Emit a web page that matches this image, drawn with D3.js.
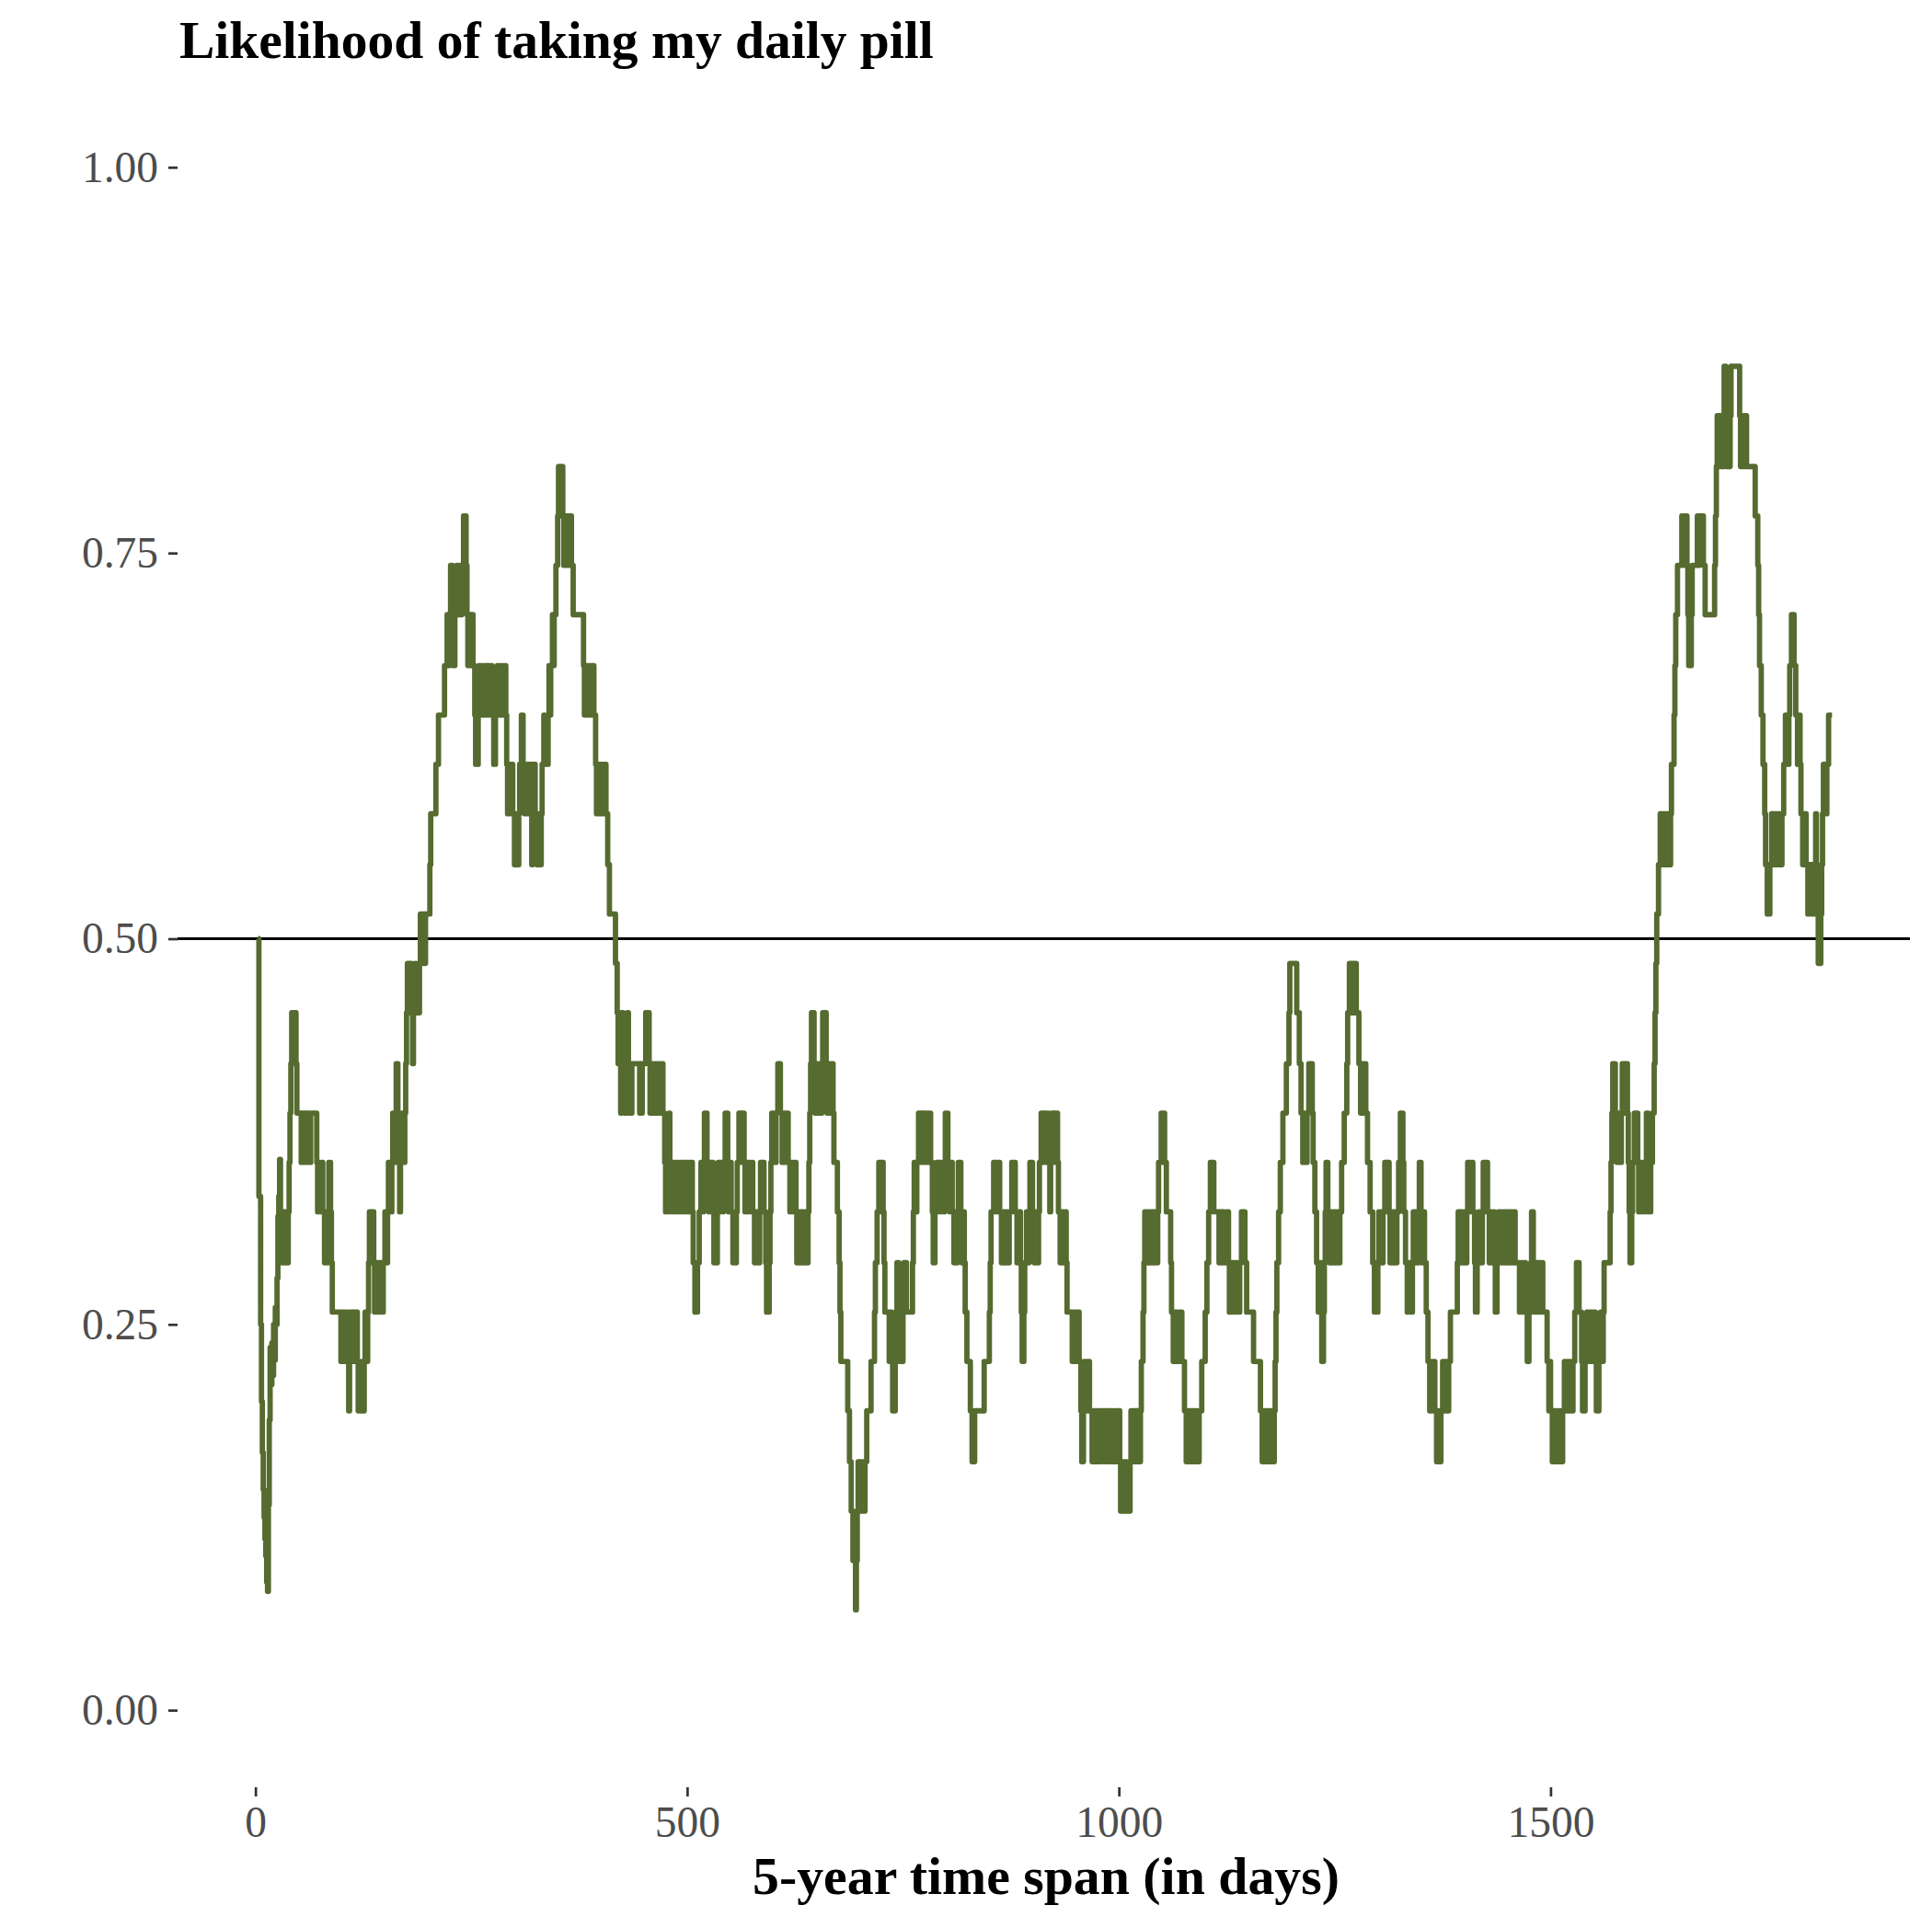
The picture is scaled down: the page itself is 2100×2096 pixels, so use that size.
<!DOCTYPE html>
<html><head><meta charset="utf-8">
<script src="https://cdn.jsdelivr.net/npm/d3@7"></script>
<style>body{margin:0;background:#fff}</style>
</head><body>
<svg id="chart" width="2100" height="2096"></svg>
<script>
// ---- data ----
const chartTitle = "Likelihood of taking my daily pill";
const xAxisTitle = "5-year time span (in days)";
const xTickValues = [0, 500, 1000, 1500];
const yTickValues = [0, 0.25, 0.5, 0.75, 1];
const dayRange = [1, 1825];
const likelihoodRange = [0, 1];
const referenceLikelihood = 0.5;
// [day, likelihood]: the likelihood holds from that day until the next entry
const likelihoodRuns = [
[3,.5],[4,.333],[6,.25],[7,.2],[8,.167],[9,.143],[10,.125],[11,.111],[12,.1],[13,.083],[14,.077],[15,.133],[16,.188],[17,.235],[18,.211],[19,.238],[20,.217],[21,.25],[22,.227],[23,.261],[24,.25],[25,.28],[26,.32],[27,.333],[28,.357],[29,.31],[30,.3],[31,.29],
[32,.323],[33,.29],[34,.323],[35,.29],[36,.323],[37,.29],[38,.323],[39,.355],[40,.387],[41,.419],[42,.452],[43,.419],[44,.452],[45,.419],[46,.452],[47,.419],[48,.387],[53,.355],[54,.387],[56,.355],[57,.387],[59,.355],[60,.387],[62,.355],[64,.387],[71,.355],[72,.323],[74,.355],[75,.323],[77,.355],[78,.323],[80,.29],[81,.323],[82,.29],[84,.323],[85,.355],[87,.323],[88,.29],[89,.258],[99,.226],[100,.258],[101,.226],[103,.258],[104,.226],[106,.258],[107,.226],[108,.194],[109,.226],[110,.258],[112,.226],[113,.258],[115,.226],[116,.258],[118,.226],[119,.194],[120,.226],[121,.194],[123,.226],[124,.194],[126,.226],[127,.258],[128,.226],[130,.258],[131,.29],[132,.323],[134,.29],[135,.323],[137,.29],[138,.258],[139,.29],[141,.258],[142,.29],[144,.258],[145,.29],[147,.258],[148,.29],[150,.323],[152,.29],[153,.323],[154,.355],[155,.323],[156,.355],[157,.323],[158,.355],[159,.387],[160,.355],[162,.387],[163,.419],[165,.387],[166,.355],[167,.323],[168,.355],[169,.387],[170,.355],[171,.387],[172,.355],[173,.387],[174,.419],[175,.452],[176,.484],[178,.452],[179,.484],[181,.452],[182,.419],[183,.452],[185,.484],[186,.452],[188,.484],[189,.452],[190,.484],[191,.516],[193,.484],[194,.516],[196,.484],[197,.516],[202,.548],[203,.581],
[209,.613],[212,.645],[219,.677],[222,.71],[224,.677],[225,.71],[226,.742],[228,.71],[229,.677],[231,.71],[233,.742],[234,.71],[236,.742],[237,.71],[239,.742],[241,.774],[244,.742],[245,.71],[246,.677],[247,.71],[249,.677],[250,.71],[252,.677],[254,.645],[255,.613],[258,.645],[259,.677],[261,.645],[263,.677],[264,.645],[266,.677],[268,.645],[269,.677],[271,.645],[273,.677],[274,.645],[276,.613],[278,.645],[280,.677],[281,.645],[283,.677],[284,.645],[286,.677],[287,.645],[289,.677],[290,.645],[291,.613],[292,.581],[294,.613],[295,.581],[297,.613],[298,.581],[300,.548],[302,.581],[303,.548],[305,.581],[306,.613],[308,.645],[310,.613],[312,.581],[314,.613],[315,.581],[317,.613],[319,.581],[320,.548],[321,.581],[322,.613],[324,.581],[326,.548],[328,.581],[329,.548],[331,.581],[332,.613],[334,.645],[335,.613],[337,.645],[338,.613],[339,.645],[340,.677],[341,.645],[342,.677],[344,.71],[345,.677],[346,.71],[348,.742],[350,.774],[351,.806],[353,.774],[354,.806],[356,.774],[357,.742],[358,.774],[360,.742],[361,.774],[363,.742],[364,.774],[366,.742],[368,.71],[380,.677],[381,.645],[383,.677],[385,.645],[387,.677],[388,.645],[390,.677],[392,.645],[394,.613],[395,.581],[397,.613],[399,.581],[401,.613],[403,.581],[405,.613],[406,.581],[408,.548],
[410,.516],[417,.484],[419,.452],[420,.419],[421,.452],[422,.419],[423,.387],[424,.419],[425,.452],[426,.419],[427,.387],[428,.419],[429,.387],[430,.419],[431,.452],[432,.419],[433,.387],[434,.419],[435,.387],[436,.419],[445,.387],[446,.419],[447,.387],[448,.419],[452,.452],[456,.419],[457,.387],[459,.419],[460,.387],[462,.419],[463,.387],[465,.419],[466,.387],[468,.419],[469,.387],[471,.419],[472,.387],[474,.355],[475,.323],[478,.355],[479,.387],[480,.355],[482,.323],[483,.355],[484,.323],[486,.355],[487,.323],[489,.355],[490,.323],[492,.355],[493,.323],[495,.355],[496,.323],[498,.355],[499,.323],[501,.355],[502,.323],[504,.355],[506,.323],[507,.29],[509,.258],[512,.29],[514,.323],[516,.355],[517,.323],[519,.355],[520,.387],[523,.355],[525,.323],[526,.355],[528,.323],[529,.355],[530,.323],[531,.29],[535,.323],[536,.355],[538,.323],[539,.355],[541,.323],[542,.355],[544,.387],[547,.355],[548,.323],[550,.355],[551,.323],[553,.29],[557,.323],[558,.355],[560,.387],[562,.355],[563,.387],[566,.355],[567,.323],[569,.355],[570,.323],[572,.355],[573,.323],[575,.355],[576,.323],[578,.29],[580,.323],[581,.29],[584,.323],[585,.355],[587,.323],[588,.355],[589,.323],[591,.29],[592,.258],[595,.29],[596,.323],[597,.355],[598,.387],[602,.355],[603,.387],[605,.419],[608,.387],[610,.355],[612,.387],[614,.355],[615,.387],[617,.355],[619,.323],[621,.355],[622,.323],[624,.355],[626,.323],[627,.29],[629,.323],[630,.29],[632,.323],[634,.29],[636,.323],[638,.29],[640,.323],[641,.355],[642,.387],[643,.419],[644,.452],[647,.419],[648,.387],[650,.419],[651,.387],[653,.419],[655,.387],[656,.419],[657,.452],[661,.419],[662,.387],[664,.419],[666,.387],[668,.419],[669,.387],[670,.355],[674,.323],[676,.29],[677,.258],[678,.226],[686,.194],[688,.161],[690,.129],[692,.097],[695,.065],[696,.097],[697,.129],[698,.161],[699,.129],[700,.161],[701,.129],[703,.161],[704,.129],[706,.161],[708,.194],[713,.226],[717,.258],[718,.29],[720,.323],[722,.355],[725,.323],[726,.355],[727,.323],[728,.29],[729,.258],[734,.226],[736,.258],[737,.226],[738,.194],[741,.226],[742,.258],[743,.29],[745,.258],[746,.226],[748,.258],[749,.226],[750,.258],[751,.29],[754,.258],
[761,.29],[762,.323],[763,.355],[765,.323],[766,.355],[768,.387],[771,.355],[772,.387],[774,.355],[775,.387],[777,.355],[779,.387],[782,.355],[784,.323],[785,.29],[787,.323],[789,.355],[791,.323],[792,.355],[793,.323],[795,.355],[797,.323],[798,.355],[799,.387],[802,.355],[804,.323],[806,.355],[807,.323],[809,.29],[810,.323],[812,.29],[813,.323],[814,.355],[817,.323],[818,.29],[820,.323],[821,.29],[822,.258],[824,.226],[828,.194],[830,.161],[833,.194],[844,.226],[850,.258],[851,.29],[852,.323],[855,.355],[858,.323],[860,.355],[862,.323],[864,.29],[866,.323],[868,.29],[870,.323],[871,.29],[873,.323],[876,.355],[880,.323],[882,.29],[884,.323],[886,.29],[887,.258],[888,.226],[890,.258],[891,.29],[893,.323],[895,.29],[896,.323],[897,.355],[900,.323],[902,.29],[904,.323],[906,.29],[907,.323],[908,.355],[910,.387],[912,.355],[913,.387],[915,.355],[917,.387],[918,.355],[920,.323],[921,.355],[922,.387],[925,.355],[926,.387],[929,.355],[930,.323],[932,.29],[934,.323],[936,.29],[938,.323],[939,.29],[940,.258],[946,.226],[948,.258],[950,.226],[952,.258],[954,.226],[956,.194],[957,.161],[959,.194],[960,.226],[962,.194],[964,.226],[966,.194],[969,.161],[971,.194],[973,.161],[975,.194],[977,.161],[980,.194],[983,.161],[985,.194],[988,.161],[990,.194],[992,.161],[995,.194],[997,.161],[999,.194],[1001,.161],[1002,.129],[1004,.161],[1005,.129],[1008,.161],[1009,.129],[1013,.161],[1014,.194],[1016,.161],[1018,.194],[1020,.161],[1021,.194],[1023,.161],[1025,.194],[1026,.226],[1028,.258],[1029,.29],[1030,.323],[1032,.29],[1034,.323],[1036,.29],[1038,.323],[1040,.29],[1041,.323],[1043,.29],[1045,.323],[1046,.355],[1049,.387],[1053,.355],[1055,.323],[1060,.29],[1061,.258],[1063,.226],[1065,.258],[1067,.226],[1069,.258],[1070,.226],[1072,.258],[1073,.226],[1076,.194],[1078,.161],[1080,.194],[1081,.161],[1083,.194],[1085,.161],[1086,.194],[1088,.161],[1090,.194],[1091,.161],[1093,.194],[1096,.226],[1100,.258],[1102,.29],[1104,.323],[1106,.355],[1110,.323],[1116,.29],[1117,.323],[1119,.29],[1120,.323],[1122,.29],[1125,.323],[1127,.29],[1128,.258],[1131,.29],[1133,.258],[1135,.29],[1137,.258],[1140,.29],[1142,.323],[1146,.29],[1148,.258],[1156,.226],[1164,.194],[1166,.161],[1168,.194],[1170,.161],[1172,.194],[1174,.161],[1176,.194],[1178,.161],[1180,.194],[1181,.226],[1182,.258],[1183,.29],[1185,.323],[1187,.355],[1190,.387],[1194,.419],[1197,.452],[1198,.484],[1206,.452],[1209,.419],[1211,.387],[1213,.355],[1214,.387],[1216,.355],[1218,.387],[1220,.419],[1224,.387],[1225,.355],[1227,.323],[1229,.29],[1231,.258],[1233,.29],[1234,.258],[1235,.226],[1237,.258],[1238,.29],[1239,.323],[1240,.355],[1242,.323],[1244,.29],[1246,.323],[1248,.29],[1250,.323],[1251,.29],[1253,.323],[1255,.29],[1256,.323],[1258,.355],[1261,.387],[1264,.419],[1265,.452],[1267,.484],[1269,.452],[1270,.484],[1272,.452],[1273,.484],[1275,.452],[1278,.419],[1280,.387],[1282,.419],[1283,.387],[1285,.419],[1286,.387],[1288,.355],[1291,.323],[1294,.29],[1296,.258],
[1297,.29],[1298,.258],[1300,.29],[1301,.323],[1302,.29],[1304,.323],[1305,.29],[1306,.323],[1308,.355],[1310,.323],[1311,.355],[1313,.323],[1314,.29],[1316,.323],[1317,.29],[1319,.323],[1320,.29],[1322,.323],[1324,.355],[1326,.387],[1329,.355],[1330,.323],[1332,.29],[1334,.258],[1336,.29],[1338,.258],[1340,.29],[1341,.323],[1343,.29],[1344,.323],[1346,.29],[1347,.323],[1348,.355],[1350,.323],[1351,.29],[1352,.323],[1354,.29],[1356,.258],[1358,.226],[1360,.194],[1362,.226],[1363,.194],[1365,.226],[1366,.194],[1368,.161],[1370,.194],[1371,.161],[1373,.194],[1375,.226],[1376,.194],[1378,.226],[1380,.194],[1382,.226],[1384,.258],[1392,.29],[1393,.323],[1395,.29],[1396,.323],[1398,.29],[1400,.323],[1401,.29],[1403,.323],[1404,.355],[1407,.323],[1409,.355],[1410,.323],[1412,.29],[1413,.258],[1415,.29],[1417,.323],[1419,.29],[1421,.323],[1422,.355],[1424,.323],[1426,.355],[1427,.323],[1429,.29],[1430,.323],[1432,.29],[1434,.323],[1435,.29],[1436,.258],[1438,.29],[1440,.323],[1442,.29],[1444,.323],[1445,.29],[1447,.323],[1449,.29],[1450,.323],[1452,.29],[1454,.323],[1455,.29],[1457,.323],[1459,.29],[1464,.258],[1466,.29],[1467,.258],[1469,.29],[1471,.258],[1473,.226],[1475,.258],[1477,.29],[1478,.323],[1480,.29],[1481,.258],[1483,.29],[1485,.258],[1486,.29],[1488,.258],[1490,.29],[1491,.258],[1496,.226],[1498,.194],[1499,.226],[1500,.194],[1502,.161],[1504,.194],[1505,.161],[1507,.194],[1509,.161],[1511,.194],[1512,.161],[1514,.194],[1516,.226],[1518,.194],[1520,.226],[1521,.194],[1523,.226],[1524,.194],[1526,.226],[1528,.258],[1530,.29],[1533,.258],[1536,.226],[1537,.194],[1540,.226],[1542,.258],[1544,.226],[1546,.258],[1548,.226],[1550,.258],[1552,.226],[1553,.194],[1556,.226],[1558,.258],[1559,.226],[1561,.258],[1562,.29],[1569,.323],[1570,.355],[1571,.387],[1572,.419],[1575,.387],[1577,.355],[1578,.387],[1580,.355],[1582,.387],[1583,.419],[1585,.387],[1586,.419],[1589,.387],[1590,.355],[1591,.323],[1592,.29],[1594,.323],[1595,.355],[1597,.387],[1599,.355],[1600,.387],[1601,.355],[1602,.323],[1604,.355],[1605,.323],[1607,.355],[1608,.323],[1610,.355],[1611,.387],[1613,.355],[1614,.323],[1616,.355],[1618,.387],[1620,.419],[1621,.452],[1622,.484],[1623,.516],[1625,.548],
[1627,.581],[1629,.548],[1631,.581],[1633,.548],[1635,.581],[1637,.548],[1639,.581],[1640,.613],[1643,.645],[1644,.677],[1645,.71],[1647,.742],[1652,.774],[1655,.742],[1656,.774],[1658,.742],[1659,.71],[1660,.677],[1663,.71],[1664,.742],[1670,.774],[1672,.742],[1673,.774],[1677,.742],[1679,.71],[1690,.742],[1691,.774],[1692,.806],[1693,.839],[1695,.806],[1696,.839],[1698,.806],[1700,.839],[1701,.871],[1703,.839],[1704,.806],[1706,.839],[1707,.806],[1708,.839],[1709,.871],[1719,.839],[1720,.806],[1721,.839],[1723,.806],[1725,.839],[1727,.806],[1737,.774],[1740,.742],[1741,.71],[1742,.677],[1744,.645],[1746,.613],[1748,.581],[1749,.548],[1751,.516],[1754,.548],[1756,.581],[1758,.548],[1760,.581],[1762,.548],[1764,.581],[1766,.548],[1768,.581],[1770,.613],[1772,.645],[1774,.613],[1776,.645],[1777,.677],[1779,.71],[1782,.677],[1784,.645],[1786,.613],[1788,.645],[1789,.613],[1790,.581],[1792,.548],[1794,.581],[1796,.548],[1798,.516],[1801,.548],[1803,.516],[1805,.548],[1807,.581],[1808,.548],[1809,.516],[1810,.484],[1813,.516],[1814,.548],[1815,.581],[1816,.613],[1818,.581],[1820,.613],[1822,.645],[1826,.645]
];

// ---- layout ----
const W = 2100, H = 2096;
const panel = {left: 193, right: 2076, top: 98, bottom: 1943};
const serif = "'Liberation Serif', 'Times New Roman', Times, serif";
const lineColor = "#556B2F";

const svg = d3.select("#chart");
svg.append("rect").attr("width", W).attr("height", H).attr("fill", "#fff");

const padX = (dayRange[1] - dayRange[0]) * 0.05;
const padY = (likelihoodRange[1] - likelihoodRange[0]) * 0.05;
const x = d3.scaleLinear().domain([dayRange[0] - padX, dayRange[1] + padX]).range([panel.left, panel.right]);
const y = d3.scaleLinear().domain([likelihoodRange[0] - padY, likelihoodRange[1] + padY]).range([panel.bottom, panel.top]);

// reference line
svg.append("line")
  .attr("x1", panel.left).attr("x2", panel.right)
  .attr("y1", y(referenceLikelihood)).attr("y2", y(referenceLikelihood))
  .attr("stroke", "#000").attr("stroke-width", 3.2);

// series
const line = d3.line().x(d => x(d[0])).y(d => y(d[1])).curve(d3.curveStepAfter);
svg.append("path").datum(likelihoodRuns)
  .attr("d", line).attr("fill", "none")
  .attr("stroke", lineColor).attr("stroke-width", 5.8)
  .attr("stroke-linejoin", "round").attr("stroke-linecap", "butt");

// axes
const yAxis = svg.append("g").attr("transform", `translate(${panel.left},0)`)
  .call(d3.axisLeft(y).tickValues(yTickValues).tickFormat(d3.format(".2f")).tickSize(10).tickPadding(11));
const xAxis = svg.append("g").attr("transform", `translate(0,${panel.bottom})`)
  .call(d3.axisBottom(x).tickValues(xTickValues).tickFormat(d3.format("d")).tickSize(10).tickPadding(10));
[yAxis, xAxis].forEach(g => {
  g.select(".domain").remove();
  g.selectAll(".tick line").attr("stroke", "#333").attr("stroke-width", 2.7);
  g.selectAll(".tick text").attr("fill", "#4D4D4D")
    .style("font-family", serif).style("font-size", "47.5px");
});

// titles
function fitText(sel, target) {
  const w = sel.node().getComputedTextLength();
  const fs = parseFloat(sel.style("font-size"));
  sel.style("font-size", (fs * target / w) + "px");
}
const t = svg.append("text").attr("x", 195).attr("y", 63)
  .style("font-family", serif).style("font-weight", "bold").style("font-size", "60px")
  .attr("fill", "#000").text(chartTitle);
fitText(t, 820);
const xt = svg.append("text").attr("x", 1137).attr("y", 2059).attr("text-anchor", "middle")
  .style("font-family", serif).style("font-weight", "bold").style("font-size", "55px")
  .attr("fill", "#000").text(xAxisTitle);
fitText(xt, 638);
</script>
</body></html>
